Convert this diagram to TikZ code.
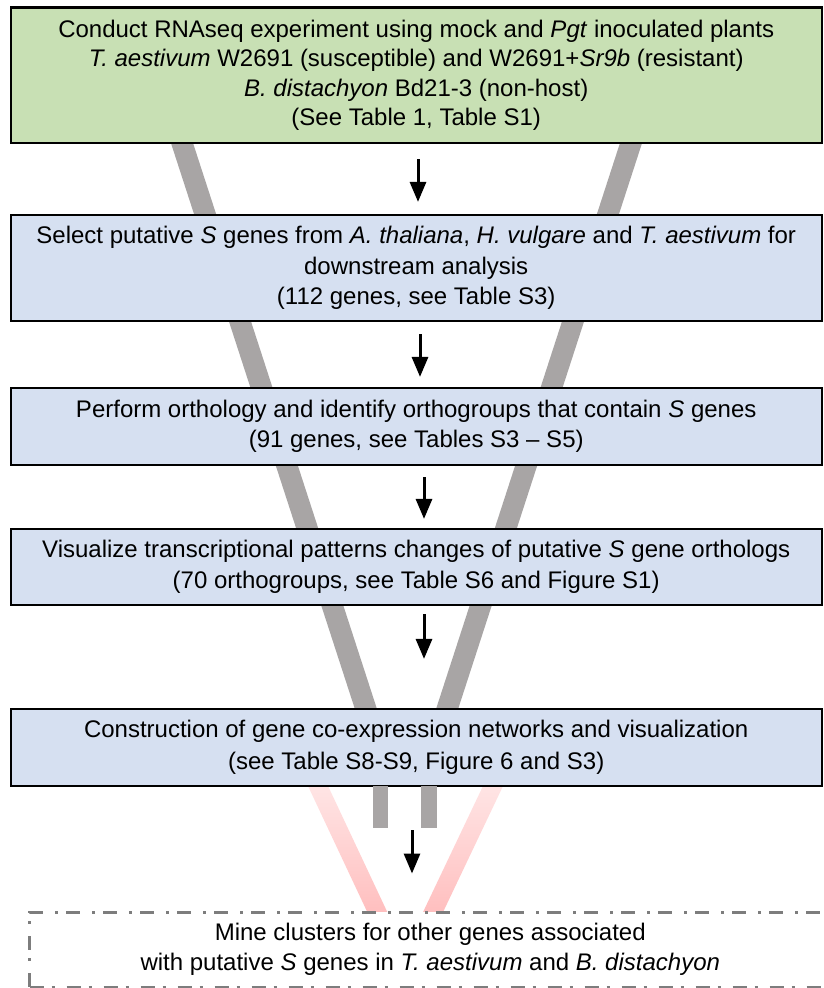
\documentclass[tikz,border=0pt]{standalone}
\usepackage{fontspec}
\setmainfont{Liberation Sans}
\usetikzlibrary{arrows.meta}
\definecolor{boxgreen}{RGB}{200,224,180}
\definecolor{boxblue}{RGB}{214,224,241}
\definecolor{funnelgrey}{RGB}{168,165,165}
\definecolor{dashgrey}{RGB}{125,125,125}
\begin{document}
\begin{tikzpicture}[x=1pt,y=-1pt,
  box/.style={draw=black, line width=2.2pt, minimum width=811pt, align=center,
    inner sep=0pt, font=\fontsize{24}{29.5}\selectfont},
  greenbox/.style={box, fill=boxgreen},
  bluebox/.style={box, fill=boxblue},
  funnel/.style={draw=funnelgrey, line width=21pt, line cap=butt},
  stub/.style={fill=funnelgrey, draw=none},
  arr/.style={line width=3pt, -{Triangle[length=20pt,width=16pt]}},
  minebox/.style={draw=dashgrey, fill=white, line width=3pt,
    dash pattern=on 14pt off 8pt on 3pt off 12pt, align=center,
    minimum width=801.5pt, minimum height=75pt, inner sep=0pt,
    font=\fontsize{24}{30}\selectfont}]
\useasboundingbox (0,0) rectangle (823,988);
\fill[white] (0,0) rectangle (823,988);

% faded red V
\shade[top color=red!5, bottom color=red!32, draw=none]
  (286.4,740) -- (306.4,740) -- (415,971) -- (395,971) -- cycle;
\shade[top color=red!5, bottom color=red!32, draw=none]
  (504.9,740) -- (524.9,740) -- (415,971) -- (395,971) -- cycle;

% grey funnel
\draw[funnel] (168,100) -- (376,740);
\draw[funnel] (645,100) -- (437,740);

% boxes
\node[greenbox, minimum height=135.5pt] (b1) at (416.2,75.25)
  {Conduct RNAseq experiment using mock and \textit{Pgt} inoculated plants\\
   \textit{T. aestivum} W2691 (susceptible) and W2691+\textit{Sr9b} (resistant)\\
   \textit{B. distachyon} Bd21-3 (non-host)\\
   (See Table 1, Table S1)};
\node[bluebox, minimum height=106pt, font=\fontsize{24}{30.5}\selectfont] (b2) at (416.2,268)
  {Select putative \textit{S} genes from \textit{A. thaliana}, \textit{H. vulgare} and \textit{T. aestivum} for\\
   downstream analysis\\
   (112 genes, see Table S3)};
\node[bluebox, minimum height=77pt, font=\fontsize{24}{30.5}\selectfont] (b3) at (416.2,426.5)
  {Perform orthology and identify orthogroups that contain \textit{S} genes\\
   (91 genes, see Tables S3 -- S5)};
\node[bluebox, minimum height=76pt, font=\fontsize{24}{30.5}\selectfont] (b4) at (416.2,567)
  {Visualize transcriptional patterns changes of putative \textit{S} gene orthologs\\
   (70 orthogroups, see Table S6 and Figure S1)};
\node[bluebox, minimum height=77pt, font=\fontsize{24}{32}\selectfont] (b5) at (416.2,747.5)
  {Construction of gene co-expression networks and visualization\\
   (see Table S8-S9, Figure 6 and S3)};

% stubs
\fill[stub] (373,786) rectangle (388,828);
\fill[stub] (421,786) rectangle (437,828);

% final dashed box
\node[minebox] (b6) at (430.25,949.5)
  {Mine clusters for other genes associated\\
   with putative \textit{S} genes in \textit{T. aestivum} and \textit{B. distachyon}};

% arrows
\draw[arr, shorten <=15pt, shorten >=12pt] ([xshift=1.8pt]b1.south) -- ([xshift=1.8pt]b2.north);
\draw[arr, shorten <=12pt, shorten >=10pt] ([xshift=3.8pt]b2.south) -- ([xshift=3.8pt]b2.south |- b3.north);
\draw[arr, shorten <=11pt, shorten >=9pt] ([xshift=7.8pt]b3.south) -- ([xshift=7.8pt]b3.south |- b4.north);
\draw[arr, shorten <=8pt, shorten >=49pt] ([xshift=7.8pt]b4.south) -- ([xshift=7.8pt]b4.south |- b5.north);
\draw[arr, shorten <=43pt, shorten >=37pt] ([xshift=-4.2pt]b5.south) -- ([xshift=-4.2pt]b5.south |- b6.north);
\end{tikzpicture}
\end{document}
